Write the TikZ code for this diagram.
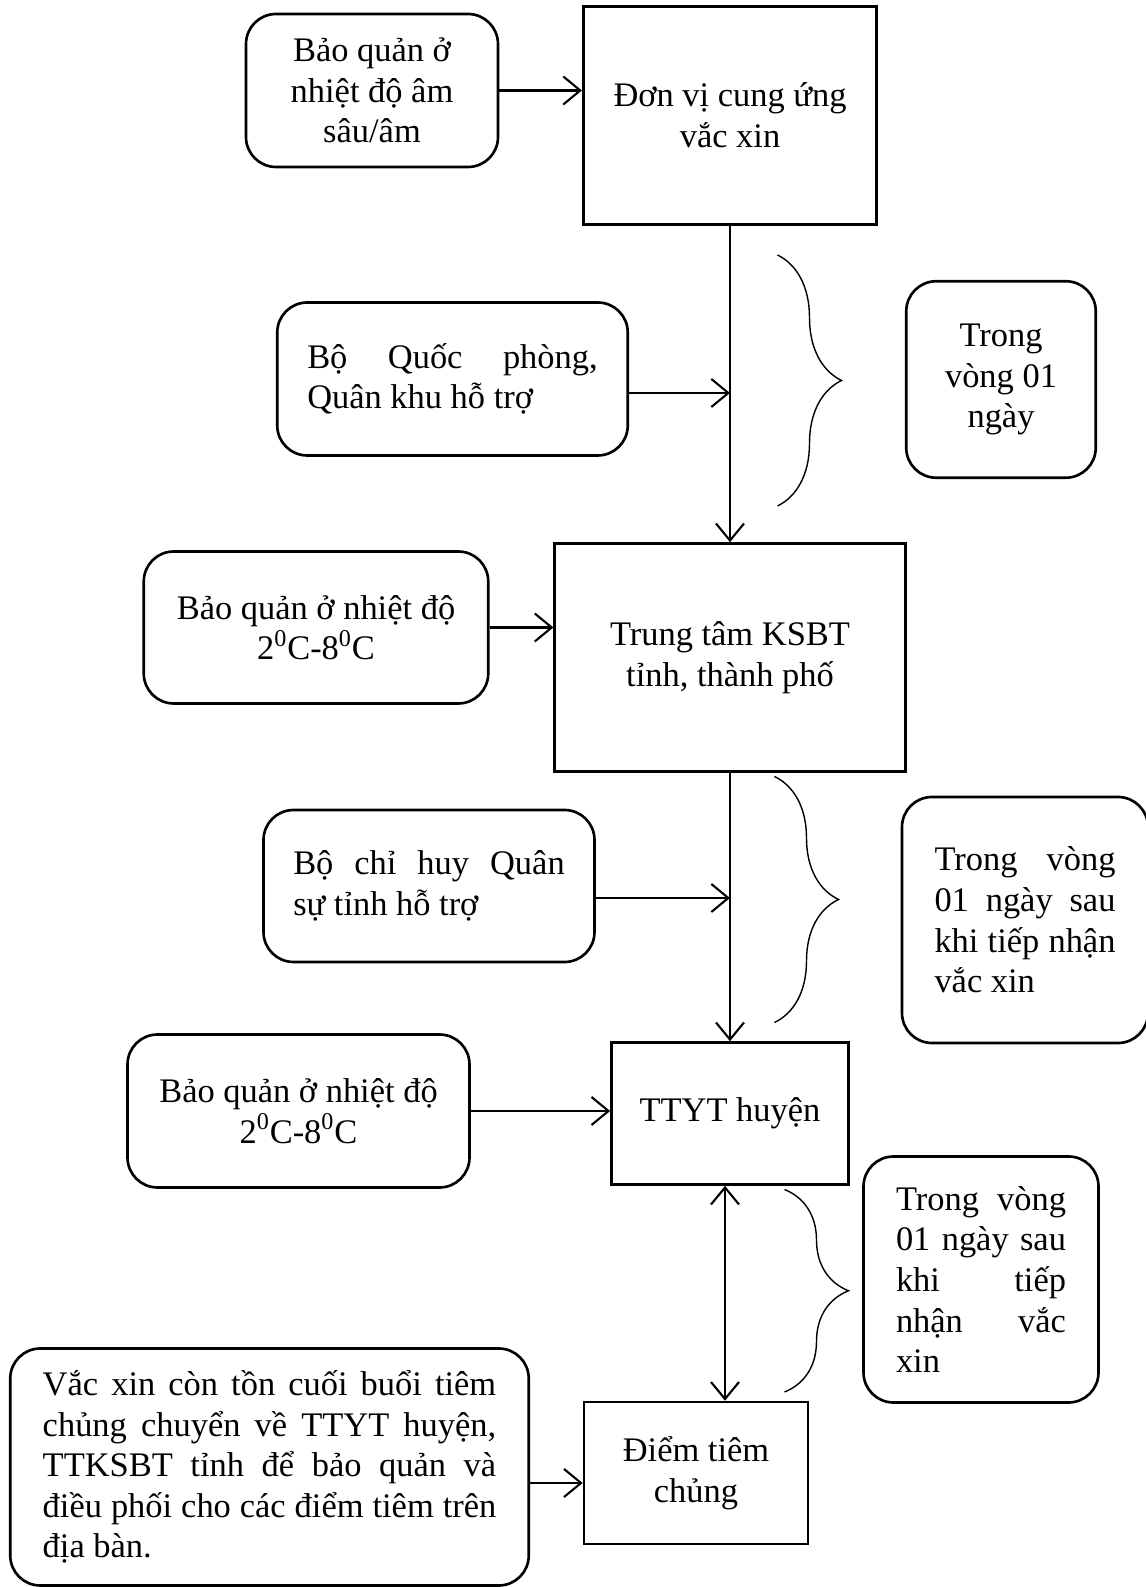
\documentclass[tikz,border=0pt]{standalone}
\usepackage{fontspec}
\setmainfont{Liberation Serif}
\usetikzlibrary{arrows.meta,decorations.pathreplacing}

\begin{document}
\begin{tikzpicture}[>={Straight Barb[length=3.4mm,width=5.6mm]},font=\fontsize{19.6}{23.1}\selectfont]
  \tikzstyle{square}=[rectangle,draw=black,line width=1.5pt,align=center]
  \tikzstyle{roundbox}=[rectangle,rounded corners=0.6cm,draw=black,line width=1.5pt,align=center]
  \tikzstyle{justbox}=[roundbox,align=justify]
  \tikzstyle{arr}=[->,line width=1.2pt]
  \tikzstyle{curly}=[decorate,decoration={brace,amplitude=1.28cm},line width=0.8pt]

\useasboundingbox (0,0) rectangle (22.92,31.74);

\begin{scope}
\node [roundbox,minimum width=5.04cm,minimum height=3.06cm] (bq1) at (7.44,29.93) {Bảo quản ở\\nhiệt độ âm\\sâu/âm};
\node [square,minimum width=5.87cm,minimum height=4.37cm] (dv) at (14.6,29.43) {Đơn vị cung ứng\\vắc xin};
\node [justbox,text width=5.81cm,minimum width=7.01cm,minimum height=3.06cm] (bqp) at (9.05,24.16) {Bộ Quốc phòng,\linebreak Quân khu hỗ trợ};
\node [roundbox,minimum width=3.79cm,minimum height=3.93cm] (t1) at (20.02,24.15) {Trong\\vòng 01\\ngày};
\draw [arr] (bq1.east) -- (bq1.east -| dv.west);

\node [roundbox,minimum width=6.89cm,minimum height=3.04cm] (bq2) at (6.32,19.19) {Bảo quản ở nhiệt độ\\2\textsuperscript{0}C-8\textsuperscript{0}C};
\node [square,minimum width=7.01cm,minimum height=4.56cm] (ksbt) at (14.6,18.59) {Trung tâm KSBT\\tỉnh, thành phố};
\draw [arr] (dv.south) -- (ksbt.north);
\draw [arr] ([yshift=-0.28cm]bqp.east) -- ([yshift=-0.28cm]bqp.east -| dv.south);
\draw [arr] (bq2.east) -- (bq2.east -| ksbt.west);
\draw [curly] (15.55,26.64) -- (15.55,21.62);

\node [justbox,text width=5.43cm,minimum width=6.62cm,minimum height=3.04cm] (bch) at (8.58,14.02) {Bộ chỉ huy Quân\linebreak sự tỉnh hỗ trợ};
\node [justbox,text width=3.62cm,minimum width=4.92cm,minimum height=4.92cm] (t2) at (20.5,13.34) {Trong vòng\linebreak 01 ngày sau\linebreak khi tiếp nhận\linebreak vắc xin};
\node [square,minimum width=4.74cm,minimum height=2.84cm] (ttyt) at (14.6,9.47) {TTYT huyện};
\node [roundbox,minimum width=6.84cm,minimum height=3.06cm] (bq3) at (5.97,9.52) {Bảo quản ở nhiệt độ\\2\textsuperscript{0}C-8\textsuperscript{0}C};
\draw [arr] (ksbt.south) -- (ttyt.north);
\draw [arr] ([yshift=-0.24cm]bch.east) -- ([yshift=-0.24cm]bch.east -| ksbt.south);
\draw [arr] (bq3.east) -- (bq3.east -| ttyt.west);
\draw [curly] (15.49,16.21) -- (15.49,11.29);

\node [justbox,text width=3.4cm,minimum width=4.7cm,minimum height=4.92cm] (t3) at (19.62,6.15) {Trong vòng\linebreak 01 ngày sau\linebreak khi tiếp\linebreak nhận vắc\linebreak xin};
\node [square,minimum width=4.48cm,minimum height=2.84cm] (dt) at (13.92,2.28) {Điểm tiêm\\chủng};
\node [justbox,text width=9.07cm,minimum width=10.37cm,minimum height=4.74cm] (vx) at (5.39,2.4) {Vắc xin còn tồn cuối buổi tiêm\linebreak chủng chuyển về TTYT huyện,\linebreak TTKSBT tỉnh để bảo quản và\linebreak điều phối cho các điểm tiêm trên\linebreak địa bàn.};
\draw [arr,<->] ([xshift=-0.1cm]ttyt.south) -- ([xshift=-0.1cm]ttyt.south |- dt.north);
\draw [arr] ([yshift=-0.2cm]dt.west -| vx.east) -- ([yshift=-0.2cm]dt.west);
\draw [curly] (15.69,7.95) -- (15.69,3.9);
\end{scope}
\end{tikzpicture}
\end{document}
